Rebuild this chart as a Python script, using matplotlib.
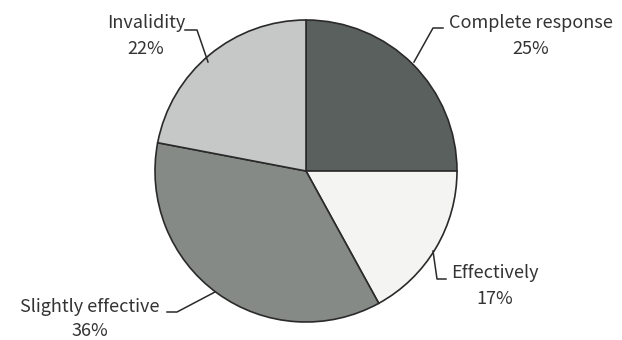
import matplotlib.pyplot as plt

plt.rcParams['font.family'] = ['Noto Sans CJK JP', 'DejaVu Sans']

# data
labels = ['Complete response', 'Effectively', 'Slightly effective', 'Invalidity']
shares = [25, 17, 36, 22]
colors = ['#5a605d', '#f4f4f2', '#858a87', '#c6c8c7']

# label layout (pixel coords, y down) and leader lines
label_pos = [(531, 36), (495, 286), (90, 319), (146, 36)]
leaders = [
    [(414, 62), (433, 28), (443, 28)],
    [(433, 251), (437, 279), (446, 279)],
    [(215, 292), (177, 312), (167, 312)],
    [(208, 62), (197, 30), (185, 30)],
]

W, H = 622, 340
fig = plt.figure(figsize=(W / 100, H / 100), dpi=100)
ax = fig.add_axes([0, 0, 1, 1])

ax.pie(shares, colors=colors, startangle=90, counterclock=False,
       center=(306, H - 171), radius=151, frame=True,
       wedgeprops=dict(edgecolor='#2a2a2a', linewidth=1.2))
ax.set_xlim(0, W)
ax.set_ylim(0, H)
ax.set_aspect('equal')
ax.axis('off')

for lab, val, (x, y), pts in zip(labels, shares, label_pos, leaders):
    ax.text(x, H - y, f'{lab}\n{val}%', ha='center', va='center',
            fontsize=13, color='#333333', linespacing=1.5)
    ax.plot([p[0] for p in pts], [H - p[1] for p in pts],
            color='#2a2a2a', linewidth=1.1)

fig.savefig('out.png', dpi=100)
